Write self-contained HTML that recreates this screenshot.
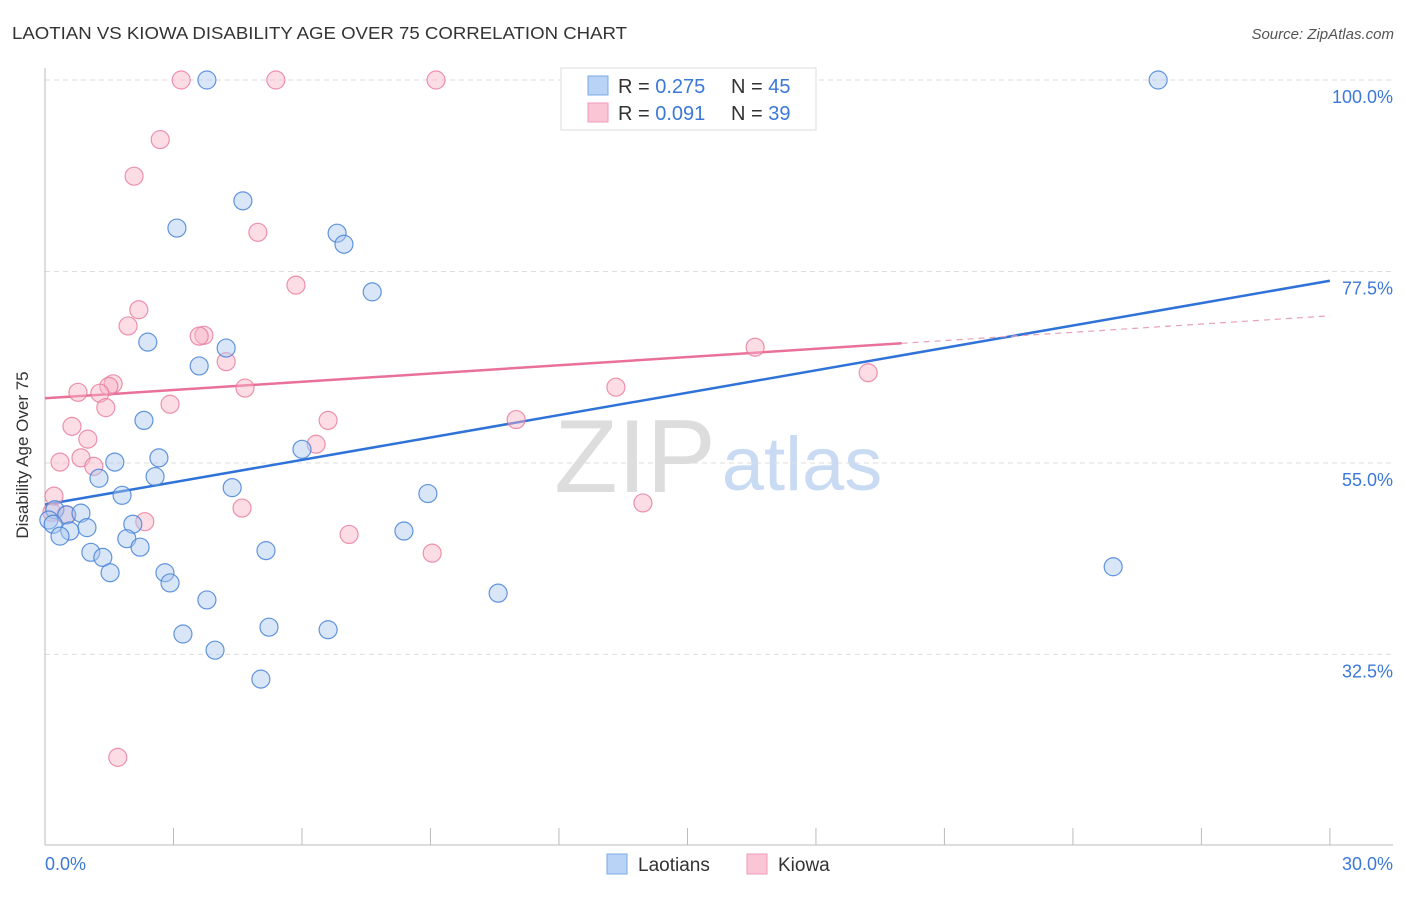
<!DOCTYPE html>
<html><head><meta charset="utf-8"><style>
body{margin:0;background:#fff;font-family:"Liberation Sans",sans-serif}
svg text{font-family:"Liberation Sans",sans-serif}
</style></head><body>
<svg id="c" width="1406" height="892" viewBox="0 0 1406 892">
<text x="12" y="39" font-size="17.5" fill="#333" textLength="615" lengthAdjust="spacingAndGlyphs">LAOTIAN VS KIOWA DISABILITY AGE OVER 75 CORRELATION CHART</text>
<text x="1394" y="39" font-size="15" fill="#555" text-anchor="end" font-style="italic">Source: ZipAtlas.com</text>
<g><text x="635" y="492" font-size="104" fill="#ddd" font-family="Liberation Serif" text-anchor="middle">ZIP</text><text x="802" y="490" font-size="76" fill="#c9dbf3" text-anchor="middle">atlas</text></g>
<g id="grid"></g><g id="axes"></g><g id="trends"></g><g id="pts"></g>
<text x="28" y="455" font-size="17" fill="#333" text-anchor="middle" transform="rotate(-90 28 455)">Disability Age Over 75</text>
<g>
<rect x="561" y="68" width="255" height="62" fill="#fff" stroke="#ddd"/>
<rect x="588" y="76" width="20" height="19" fill="#b8d3f5" stroke="#7aa8e6"/>
<rect x="588" y="103" width="20" height="19" fill="#fac5d5" stroke="#f29bb7"/>
<text x="618" y="93" font-size="20" fill="#333">R = <tspan fill="#3b78d8">0.275</tspan><tspan x="731">N = </tspan><tspan fill="#3b78d8">45</tspan></text>
<text x="618" y="120" font-size="20" fill="#333">R = <tspan fill="#3b78d8">0.091</tspan><tspan x="731">N = </tspan><tspan fill="#3b78d8">39</tspan></text>
</g>
<g>
<rect x="607" y="854" width="20" height="20" fill="#b8d3f5" stroke="#7aa8e6"/>
<text x="638" y="871" font-size="19" fill="#333">Laotians</text>
<rect x="747" y="854" width="20" height="20" fill="#fac5d5" stroke="#f29bb7"/>
<text x="778" y="871" font-size="19" fill="#333">Kiowa</text>
</g>
</svg>
<script>
const blueX=[3.78,25.99,4.62,3.08,6.82,6.98,7.64,2.40,4.23,3.60,2.31,6.00,2.66,1.63,2.57,1.26,4.37,1.80,8.94,0.23,0.51,0.84,0.09,0.19,0.98,0.58,2.05,0.35,1.91,2.22,8.38,5.16,1.07,1.35,1.52,2.80,2.92,24.94,10.58,3.78,3.22,5.23,6.61,3.97,5.04];
const blueY=[100,100,85.8,82.6,82.0,80.7,75.1,69.2,68.5,66.4,60.0,56.6,55.6,55.1,53.4,53.2,52.1,51.2,51.4,49.5,48.9,49.1,48.3,47.8,47.4,47.0,47.8,46.4,46.1,45.1,47.0,44.7,44.5,43.9,42.1,42.1,40.9,42.8,39.7,38.9,34.9,35.7,35.4,33.0,29.6];
const pinkX=[3.18,5.39,9.13,2.69,2.08,4.97,5.86,2.19,1.94,3.71,3.60,4.23,16.58,1.59,1.49,0.77,1.28,4.67,13.33,19.22,1.42,2.92,0.63,6.61,11.0,1.0,6.33,0.84,0.35,1.14,0.21,0.16,0.49,2.33,4.60,13.96,7.10,9.04,1.70];
const pinkY=[100,100,100,93.0,88.7,82.1,75.9,73.0,71.1,70.0,69.9,66.9,68.6,64.3,64.0,63.3,63.2,63.8,63.9,65.6,61.5,61.9,59.3,60.0,60.1,57.8,57.2,55.6,55.1,54.6,51.1,49.2,48.9,48.1,49.7,50.3,46.6,44.4,20.4];
const trendBlue=[50.1,0.877];
const trendPink=[62.6,0.323];
const pinkSolidEnd=20;
const yTicks=[100,77.5,55,32.5];
const yTickLabels=["100.0%","77.5%","55.0%","32.5%"];
const xTicks=[0,3,6,9,12,15,18,21,24,27,30];
const NS="http://www.w3.org/2000/svg";
const sx=v=>45+v*42.83, sy=v=>80+(100-v)*8.51;
function mk(t,a,p){const e=document.createElementNS(NS,t);for(const k in a)e.setAttribute(k,a[k]);p.appendChild(e);return e;}
const grid=document.getElementById('grid'),axes=document.getElementById('axes'),tr=document.getElementById('trends'),pts=document.getElementById('pts');
yTicks.forEach((v,i)=>{
 const l=mk('line',{x1:45,x2:1393,y1:sy(v),y2:sy(v),stroke:'#ddd','stroke-dasharray':'5,4'},grid);
 
 
 const t=mk('text',{x:1393,y:sy(v)+23,'font-size':18,fill:'#3b78d8','text-anchor':'end'},axes);
 t.textContent=yTickLabels[i];
 
 
});
const la=mk('line',{x1:45,x2:45,y1:68,y2:845,stroke:'#bbb'},axes);


const ba=mk('line',{x1:45,x2:1393,y1:845,y2:845,stroke:'#bbb'},axes);


xTicks.forEach(v=>{const l=mk('line',{x1:sx(v),x2:sx(v),y1:828,y2:845,stroke:'#bbb'},axes);
 
 });
const x0=mk('text',{x:45,y:870,'font-size':18,fill:'#3b78d8'},axes);x0.textContent='0.0%';


const x1=mk('text',{x:1393,y:870,'font-size':18,fill:'#3b78d8','text-anchor':'end'},axes);x1.textContent='30.0%';


function dots(X,Y,fill,stroke,name){X.forEach((x,i)=>{const c=mk('circle',{cx:sx(x),cy:sy(Y[i]),r:9,fill:fill,stroke:stroke,'stroke-width':1.2},pts);
 
 });}
dots(pinkX,pinkY,'rgba(248,180,200,0.45)','rgba(232,120,155,0.8)','kiowa-point');
dots(blueX,blueY,'rgba(170,200,240,0.45)','rgba(70,130,215,0.85)','laotians-point');
const f=(t,x)=>t[0]+t[1]*x;
const bl=mk('line',{x1:sx(0),y1:sy(f(trendBlue,0)),x2:sx(30),y2:sy(f(trendBlue,30)),stroke:'#2f72d8','stroke-width':2.5},tr);


const pl=mk('line',{x1:sx(0),y1:sy(f(trendPink,0)),x2:sx(pinkSolidEnd),y2:sy(f(trendPink,pinkSolidEnd)),stroke:'#e8709a','stroke-width':2.5},tr);


const pd=mk('line',{x1:sx(pinkSolidEnd),y1:sy(f(trendPink,pinkSolidEnd)),x2:sx(30),y2:sy(f(trendPink,30)),stroke:'#e8a0b8','stroke-width':1.2,'stroke-dasharray':'6,5'},tr);


</script>
</body></html>
